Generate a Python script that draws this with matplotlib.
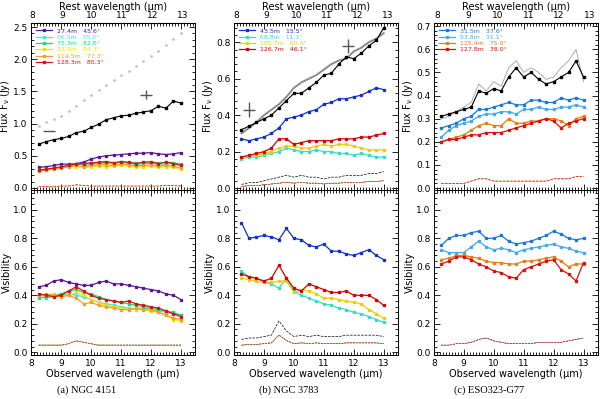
import matplotlib
matplotlib.use("Agg")
import matplotlib.pyplot as plt
from matplotlib.ticker import AutoMinorLocator, MultipleLocator

plt.rcParams['font.family'] = ['DejaVu Sans']
plt.rcParams['mathtext.default'] = 'regular'

# observed wavelength grid (micron)
wave = [8.25, 8.5, 8.75, 9.0, 9.25, 9.5, 9.75, 10.0, 10.25, 10.5,
        10.75, 11.0, 11.25, 11.5, 11.75, 12.0, 12.25, 12.5, 12.75, 13.0]

# ---- (a) NGC 4151 ----
a_total = [0.68, 0.72, 0.75, 0.77, 0.80, 0.86, 0.88, 0.94, 0.99, 1.06,
           1.09, 1.12, 1.13, 1.16, 1.18, 1.20, 1.27, 1.24, 1.35, 1.32]
a_single = [0.96, 1.02, 1.07, 1.12, 1.20, 1.28, 1.36, 1.44, 1.52, 1.60,
            1.67, 1.75, 1.82, 1.90, 1.97, 2.05, 2.13, 2.22, 2.32, 2.40]
a_corr = {
    'purple': [0.32, 0.33, 0.35, 0.37, 0.37, 0.38, 0.40, 0.45, 0.48, 0.50,
               0.51, 0.52, 0.53, 0.54, 0.54, 0.55, 0.53, 0.52, 0.53, 0.55],
    'cyan': [0.27, 0.29, 0.31, 0.32, 0.34, 0.37, 0.35, 0.36, 0.37, 0.39,
             0.38, 0.40, 0.38, 0.36, 0.37, 0.39, 0.36, 0.37, 0.38, 0.36],
    'green': [0.26, 0.28, 0.30, 0.32, 0.35, 0.38, 0.37, 0.38, 0.39, 0.40,
              0.39, 0.40, 0.39, 0.39, 0.40, 0.38, 0.39, 0.40, 0.39, 0.37],
    'yellow': [0.28, 0.29, 0.31, 0.32, 0.33, 0.33, 0.32, 0.33, 0.34, 0.33,
               0.34, 0.35, 0.34, 0.33, 0.33, 0.34, 0.32, 0.33, 0.32, 0.30],
    'orange': [0.27, 0.28, 0.30, 0.31, 0.33, 0.35, 0.33, 0.35, 0.36, 0.36,
               0.35, 0.37, 0.36, 0.34, 0.35, 0.36, 0.34, 0.35, 0.34, 0.31],
    'red': [0.28, 0.29, 0.31, 0.33, 0.35, 0.37, 0.38, 0.39, 0.40, 0.41,
            0.39, 0.41, 0.40, 0.38, 0.40, 0.41, 0.38, 0.40, 0.38, 0.35],
}
a_vis = {
    'purple': [0.46, 0.47, 0.50, 0.51, 0.49, 0.48, 0.47, 0.47, 0.49, 0.50,
               0.48, 0.48, 0.47, 0.46, 0.45, 0.44, 0.43, 0.41, 0.40, 0.37],
    'cyan': [0.39, 0.38, 0.39, 0.40, 0.41, 0.40, 0.39, 0.37, 0.35, 0.34,
             0.33, 0.32, 0.31, 0.30, 0.31, 0.30, 0.29, 0.28, 0.27, 0.26],
    'green': [0.38, 0.39, 0.40, 0.41, 0.43, 0.44, 0.42, 0.41, 0.39, 0.37,
              0.36, 0.35, 0.34, 0.33, 0.32, 0.31, 0.30, 0.29, 0.28, 0.26],
    'yellow': [0.40, 0.40, 0.41, 0.39, 0.40, 0.42, 0.40, 0.37, 0.35, 0.33,
               0.32, 0.31, 0.30, 0.30, 0.30, 0.29, 0.28, 0.26, 0.23, 0.22],
    'orange': [0.40, 0.41, 0.40, 0.39, 0.40, 0.38, 0.34, 0.35, 0.33, 0.32,
               0.31, 0.30, 0.30, 0.31, 0.30, 0.30, 0.28, 0.26, 0.24, 0.23],
    'red': [0.41, 0.40, 0.39, 0.40, 0.43, 0.46, 0.43, 0.40, 0.38, 0.37,
            0.36, 0.35, 0.36, 0.34, 0.33, 0.32, 0.31, 0.29, 0.27, 0.25],
}
a_flux_err = [0.02, 0.02, 0.02, 0.03, 0.03, 0.05, 0.04, 0.03, 0.03, 0.03,
              0.03, 0.03, 0.03, 0.03, 0.03, 0.03, 0.03, 0.04, 0.04, 0.03]
a_vis_err = [0.05, 0.05, 0.05, 0.05, 0.06, 0.08, 0.07, 0.06, 0.05, 0.05,
             0.05, 0.05, 0.05, 0.05, 0.05, 0.05, 0.05, 0.05, 0.05, 0.05]
a_labels = ['27.4m   45.6°', '66.5m   55.6°', '75.3m   82.6°',
            '93.5m   84.3°', '114.5m   77.3°', '128.3m   80.3°']
a_colors = ['#5b1690', '#3ee8e8', '#1fd868', '#ece400', '#f0a030', '#d41414']
a_photo_x = [8.6, 11.85]
a_photo_y = [0.88, 1.45]
a_photo_yerr = [0.0, 0.07]

# ---- (b) NGC 3783 ----
b_total = [0.32, 0.34, 0.36, 0.38, 0.40, 0.44, 0.48, 0.52, 0.52, 0.55,
           0.58, 0.62, 0.63, 0.68, 0.72, 0.71, 0.74, 0.78, 0.81, 0.88]
b_single = [0.30, 0.33, 0.36, 0.40, 0.43, 0.46, 0.50, 0.55, 0.58, 0.60,
            0.62, 0.65, 0.68, 0.70, 0.71, 0.75, 0.77, 0.80, 0.82, 0.85]
b_corr = {
    'blue': [0.27, 0.26, 0.27, 0.28, 0.30, 0.33, 0.38, 0.39, 0.40, 0.42,
             0.43, 0.46, 0.47, 0.49, 0.49, 0.50, 0.51, 0.53, 0.55, 0.54],
    'cyan': [0.16, 0.17, 0.17, 0.18, 0.19, 0.20, 0.22, 0.21, 0.20, 0.20,
             0.21, 0.20, 0.20, 0.19, 0.19, 0.18, 0.19, 0.18, 0.17, 0.17],
    'yellow': [0.17, 0.18, 0.18, 0.19, 0.20, 0.22, 0.23, 0.23, 0.22, 0.22,
               0.23, 0.24, 0.23, 0.24, 0.24, 0.23, 0.22, 0.21, 0.21, 0.21],
    'red': [0.17, 0.18, 0.19, 0.20, 0.22, 0.27, 0.27, 0.24, 0.25, 0.26,
            0.26, 0.26, 0.26, 0.27, 0.27, 0.27, 0.28, 0.28, 0.29, 0.30],
}
b_vis = {
    'blue': [0.91, 0.80, 0.81, 0.82, 0.81, 0.79, 0.87, 0.80, 0.79, 0.75,
             0.74, 0.76, 0.71, 0.71, 0.69, 0.68, 0.70, 0.72, 0.68, 0.65],
    'cyan': [0.57, 0.53, 0.52, 0.49, 0.48, 0.45, 0.52, 0.43, 0.40, 0.38,
             0.36, 0.34, 0.33, 0.31, 0.30, 0.28, 0.27, 0.25, 0.23, 0.21],
    'yellow': [0.52, 0.51, 0.50, 0.49, 0.49, 0.50, 0.50, 0.42, 0.44, 0.43,
               0.41, 0.38, 0.38, 0.37, 0.36, 0.35, 0.34, 0.30, 0.27, 0.24],
    'red': [0.55, 0.53, 0.52, 0.50, 0.52, 0.61, 0.52, 0.45, 0.43, 0.48,
            0.46, 0.44, 0.42, 0.42, 0.43, 0.40, 0.40, 0.40, 0.37, 0.33],
}
b_flux_err = [0.02, 0.03, 0.03, 0.04, 0.05, 0.06, 0.07, 0.06, 0.07, 0.06,
              0.06, 0.05, 0.06, 0.06, 0.07, 0.07, 0.07, 0.08, 0.08, 0.09]
b_vis_err = [0.09, 0.10, 0.10, 0.11, 0.12, 0.22, 0.15, 0.11, 0.12, 0.11,
             0.12, 0.11, 0.11, 0.11, 0.12, 0.12, 0.12, 0.12, 0.12, 0.11]
b_labels = ['43.5m   15.5°', '68.8m   11.1°', '105.7m   60.4°', '126.7m   46.1°']
b_colors = ['#1030c8', '#35dcc8', '#f2cc00', '#d80000']
b_photo_x = [8.5, 11.8]
b_photo_y = [0.43, 0.78]
b_photo_yerr = [0.04, 0.04]

# ---- (c) ESO323-G77 ----
c_total = [0.31, 0.32, 0.33, 0.34, 0.35, 0.42, 0.41, 0.43, 0.42, 0.48,
           0.52, 0.48, 0.50, 0.47, 0.45, 0.46, 0.48, 0.50, 0.55, 0.48]
c_single = [0.30, 0.31, 0.33, 0.35, 0.37, 0.45, 0.42, 0.46, 0.44, 0.52,
            0.55, 0.50, 0.52, 0.50, 0.47, 0.48, 0.52, 0.55, 0.60, 0.46]
c_corr = {
    'blue': [0.26, 0.27, 0.28, 0.30, 0.31, 0.34, 0.34, 0.35, 0.36, 0.37,
             0.36, 0.36, 0.38, 0.38, 0.37, 0.37, 0.39, 0.38, 0.39, 0.38],
    'lblue': [0.22, 0.25, 0.27, 0.28, 0.29, 0.31, 0.32, 0.32, 0.33, 0.33,
              0.32, 0.34, 0.34, 0.35, 0.34, 0.34, 0.35, 0.35, 0.36, 0.35],
    'orange': [0.20, 0.21, 0.22, 0.23, 0.25, 0.27, 0.28, 0.27, 0.27, 0.30,
               0.28, 0.28, 0.29, 0.29, 0.30, 0.30, 0.29, 0.27, 0.30, 0.31],
    'red': [0.20, 0.21, 0.21, 0.22, 0.23, 0.23, 0.24, 0.24, 0.24, 0.25,
            0.26, 0.27, 0.28, 0.29, 0.30, 0.29, 0.26, 0.28, 0.29, 0.30],
}
c_vis = {
    'blue': [0.75, 0.80, 0.82, 0.82, 0.84, 0.85, 0.80, 0.80, 0.82, 0.78,
             0.76, 0.77, 0.78, 0.80, 0.82, 0.85, 0.83, 0.80, 0.79, 0.80],
    'lblue': [0.72, 0.70, 0.70, 0.70, 0.74, 0.78, 0.74, 0.72, 0.73, 0.72,
              0.70, 0.72, 0.73, 0.74, 0.75, 0.76, 0.74, 0.73, 0.71, 0.70],
    'orange': [0.65, 0.66, 0.68, 0.68, 0.67, 0.66, 0.64, 0.63, 0.63, 0.62,
               0.62, 0.64, 0.64, 0.65, 0.66, 0.67, 0.64, 0.60, 0.62, 0.62],
    'red': [0.62, 0.64, 0.67, 0.67, 0.65, 0.62, 0.60, 0.57, 0.56, 0.53,
            0.52, 0.58, 0.60, 0.62, 0.64, 0.65, 0.58, 0.55, 0.50, 0.63],
}
c_flux_err = [0.02, 0.02, 0.02, 0.02, 0.03, 0.04, 0.04, 0.03, 0.03, 0.03,
              0.03, 0.03, 0.03, 0.03, 0.03, 0.04, 0.04, 0.04, 0.05, 0.05]
c_vis_err = [0.05, 0.05, 0.06, 0.06, 0.07, 0.09, 0.10, 0.08, 0.07, 0.06,
             0.06, 0.06, 0.06, 0.07, 0.07, 0.07, 0.07, 0.08, 0.09, 0.10]
c_labels = ['31.5m   37.6°', '53.8m   31.1°', '115.4m   75.0°', '127.8m   38.0°']
c_colors = ['#1a78d8', '#40aaec', '#ee7a10', '#d81010']

redshift = [0.0033, 0.0097, 0.015]
captions = ['(a) NGC 4151', '(b) NGC 3783', '(c) ESO323-G77']
flux_ylim = [(-0.03, 2.56), (-0.01, 0.905), (-0.008, 0.713)]
flux_step = [0.5, 0.2, 0.1]
single_style = [dict(color='#c4c4c4', ls='none', marker='.', ms=2.0),
                dict(color='#8c8c8c', ls='-', lw=1.4),
                dict(color='#a0a0a0', ls='-', lw=0.6)]

panels = [
    (a_total, a_single, a_corr, a_vis, a_flux_err, a_vis_err, a_labels, a_colors,
     (a_photo_x, a_photo_y, a_photo_yerr)),
    (b_total, b_single, b_corr, b_vis, b_flux_err, b_vis_err, b_labels, b_colors,
     (b_photo_x, b_photo_y, b_photo_yerr)),
    (c_total, c_single, c_corr, c_vis, c_flux_err, c_vis_err, c_labels, c_colors,
     None),
]


def style_axis(ax):
    ax.set_xlim(8, 13.47)
    ax.xaxis.set_major_locator(MultipleLocator(1))
    ax.xaxis.set_minor_locator(MultipleLocator(0.1))
    ax.yaxis.set_minor_locator(AutoMinorLocator(5))
    ax.tick_params(which='both', direction='in', top=True, right=True,
                   labelsize=6.5, width=0.6, pad=2.5)
    ax.tick_params(which='major', length=4)
    ax.tick_params(which='minor', length=2)
    for s in ax.spines.values():
        s.set_linewidth(0.7)


fig = plt.figure(figsize=(6.0, 3.99), dpi=100)
lefts = [0.052, 0.39, 0.723]
w = 0.273

for i, (total, single, corr, vis, ferr, verr, labels, colors, photo) in enumerate(panels):
    ax1 = fig.add_axes([lefts[i], 0.524, w, 0.418])
    ax2 = fig.add_axes([lefts[i], 0.110, w, 0.414])

    # upper: flux
    ax1.plot(wave, single, **single_style[i])
    ax1.plot(wave, total, color='black', lw=0.8, marker='s', ms=1.6)
    if photo is not None:
        px, py, pye = photo
        ax1.errorbar(px, py, xerr=0.2, yerr=pye, fmt='none',
                     ecolor='#555555', elinewidth=1.0)
    handles = []
    for (key, ys), col in zip(corr.items(), colors):
        h, = ax1.plot(wave, ys, color=col, lw=0.9, marker='s', ms=1.4)
        handles.append(h)
    if i == 1:
        ax1.plot(wave, ferr, color='black', lw=0.5, ls='--')
        err_col = [v * 0.45 for v in ferr]
        for col in colors:
            ax1.plot(wave, err_col, color=col, lw=0.4, ls='--')
    else:
        for col in colors[-2:]:
            ax1.plot(wave, ferr, color=col, lw=0.5, ls='--')
    ax1.set_ylim(*flux_ylim[i])
    ax1.yaxis.set_major_locator(MultipleLocator(flux_step[i]))
    style_axis(ax1)
    ax1.tick_params(labelbottom=False)
    ax1.set_ylabel('Flux F$_\\nu$ (Jy)', fontsize=7, labelpad=1)
    ax1.legend(handles, labels, loc='upper left', fontsize=4.5,
               frameon=False, handlelength=2.6, labelspacing=0.15,
               borderaxespad=0.4, labelcolor='linecolor')

    z = redshift[i]
    top = ax1.secondary_xaxis('top', functions=(lambda x, z=z: x / (1 + z),
                                                lambda x, z=z: x * (1 + z)))
    top.xaxis.set_major_locator(MultipleLocator(1))
    top.tick_params(labelsize=6.5, direction='in', length=0, pad=2)
    top.set_xlabel('Rest wavelength (μm)', fontsize=7, labelpad=1)

    # lower: visibility
    for (key, ys), col in zip(vis.items(), colors):
        ax2.plot(wave, ys, color=col, lw=0.9, marker='s', ms=1.4)
    if i == 1:
        ax2.plot(wave, verr, color='black', lw=0.5, ls='--')
        err_col = [v * 0.55 for v in verr]
        for col in colors:
            ax2.plot(wave, err_col, color=col, lw=0.4, ls='--')
    else:
        for col in colors:
            ax2.plot(wave, verr, color=col, lw=0.4, ls='--')
    ax2.set_ylim(-0.02, 1.14)
    ax2.yaxis.set_major_locator(MultipleLocator(0.2))
    style_axis(ax2)
    ax2.set_ylabel('Visibility', fontsize=7, labelpad=1)
    ax2.set_xlabel('Observed wavelength (μm)', fontsize=7, labelpad=1)

    fig.text(lefts[i] + w / 2 - 0.045, 0.022, captions[i], ha='center',
             va='center', fontsize=7.5, family='Liberation Serif')

fig.savefig('out.png', dpi=100)
